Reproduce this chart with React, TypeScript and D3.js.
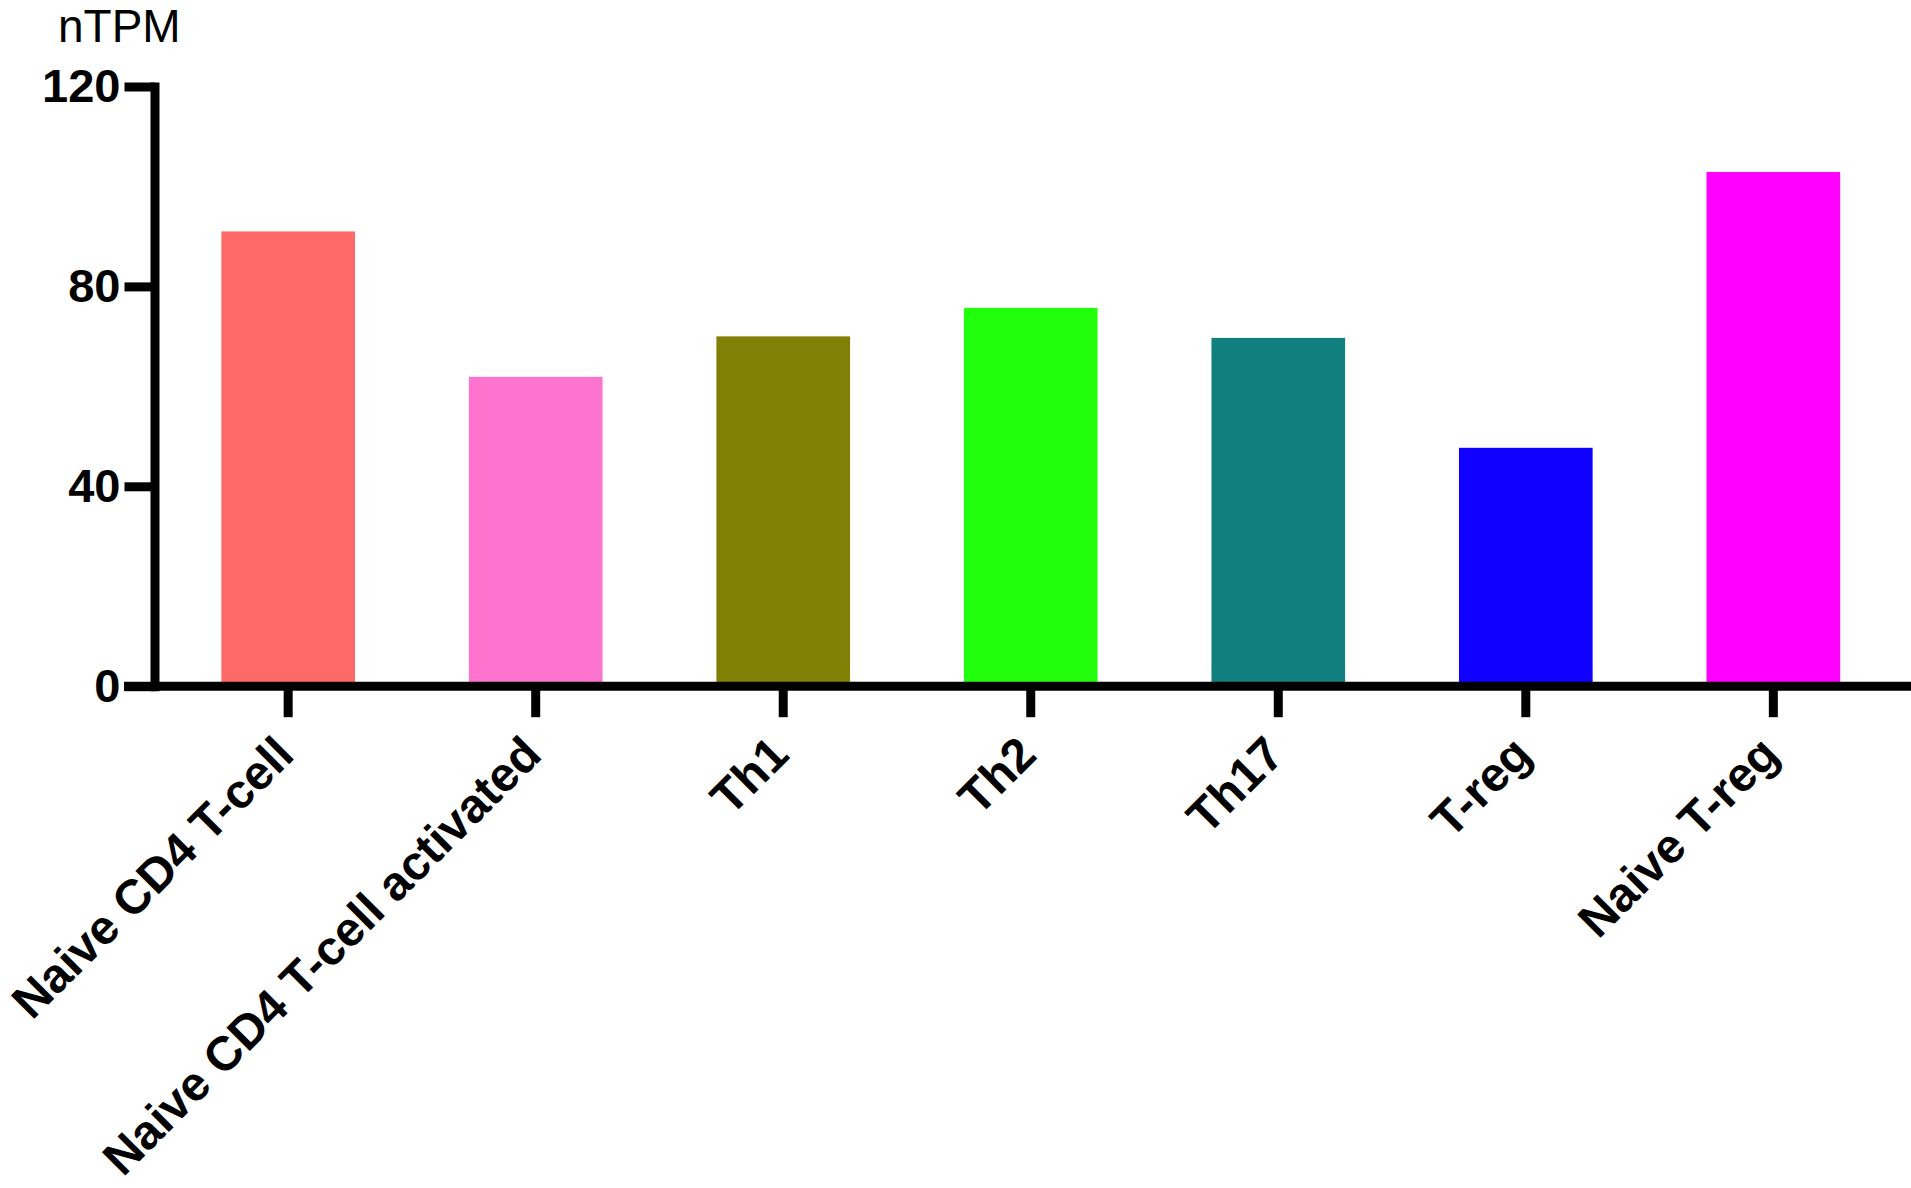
import React, { useEffect, useRef } from 'react'
import * as d3 from 'd3'

// cell types and expression (nTPM)
const categories = [
  'Naive CD4 T-cell',
  'Naive CD4 T-cell activated',
  'Th1',
  'Th2',
  'Th17',
  'T-reg',
  'Naive T-reg',
]
const values = [91.0, 61.9, 70.0, 75.7, 69.7, 47.7, 102.9]
const barColors = ['#FF6A68', '#FD74CF', '#807F06', '#22FF0C', '#117F7E', '#1000FF', '#FF00FF']
const yTicks = [0, 40, 80, 120]

const W = 1911
const H = 1188
const FONT = '"Liberation Sans", Arial, Helvetica, sans-serif'

export default function App() {
  const ref = useRef<SVGSVGElement>(null)

  useEffect(() => {
    document.body.style.margin = '0'
    const svg = d3.select(ref.current)
    svg.selectAll('*').remove()

    const x = d3.scaleBand<string>()
      .domain(categories)
      .range([154.5, 1907])
      .paddingInner(0.46)
      .paddingOuter(0.27)

    const y = d3.scaleLinear()
      .domain([0, 120])
      .range([686.2, 86.5])

    // bars
    svg.append('g')
      .selectAll('rect')
      .data(categories)
      .enter().append('rect')
      .attr('x', (d) => x(d))
      .attr('width', x.bandwidth())
      .attr('y', (d, i) => y(values[i]))
      .attr('height', (d, i) => y(0) - y(values[i]))
      .attr('fill', (d, i) => barColors[i])

    // y axis
    const yAxis = svg.append('g')
      .attr('transform', 'translate(154.5,0)')
      .call(d3.axisLeft(y).tickValues(yTicks).tickSize(30).tickSizeOuter(0).tickPadding(4))
    yAxis.select('.domain')
      .attr('stroke', '#000')
      .attr('stroke-width', 9)
      .attr('stroke-linecap', 'square')
    yAxis.selectAll('.tick line')
      .attr('stroke', '#000')
      .attr('stroke-width', 9)
    yAxis.selectAll('.tick text')
      .attr('fill', '#000')
      .style('font-family', FONT)
      .style('font-weight', 'bold')
      .style('font-size', '47px')

    // x axis line
    svg.append('line')
      .attr('x1', 124).attr('x2', W)
      .attr('y1', y(0)).attr('y2', y(0))
      .attr('stroke', '#000')
      .attr('stroke-width', 9)

    // x ticks
    const xAxis = svg.append('g')
      .attr('transform', `translate(0,${y(0)})`)
      .call(d3.axisBottom(x).tickSize(31).tickSizeOuter(0).tickFormat(() => ''))
    xAxis.select('.domain').remove()
    xAxis.selectAll('.tick line')
      .attr('stroke', '#000')
      .attr('stroke-width', 9)

    // rotated category labels
    svg.append('g')
      .selectAll('text')
      .data(categories)
      .enter().append('text')
      .attr('transform', (d) => `translate(${(x(d) || 0) + x.bandwidth() / 2 + 8},757) rotate(-45)`)
      .attr('text-anchor', 'end')
      .style('font-family', FONT)
      .style('font-weight', 'bold')
      .style('font-size', '48px')
      .text((d) => d)

    // unit label
    svg.append('text')
      .attr('x', 58)
      .attr('y', 42)
      .style('font-family', FONT)
      .style('font-size', '46px')
      .text('nTPM')
  }, [])

  return <svg ref={ref} width={W} height={H} style={{ display: 'block', background: '#fff' }} />
}
